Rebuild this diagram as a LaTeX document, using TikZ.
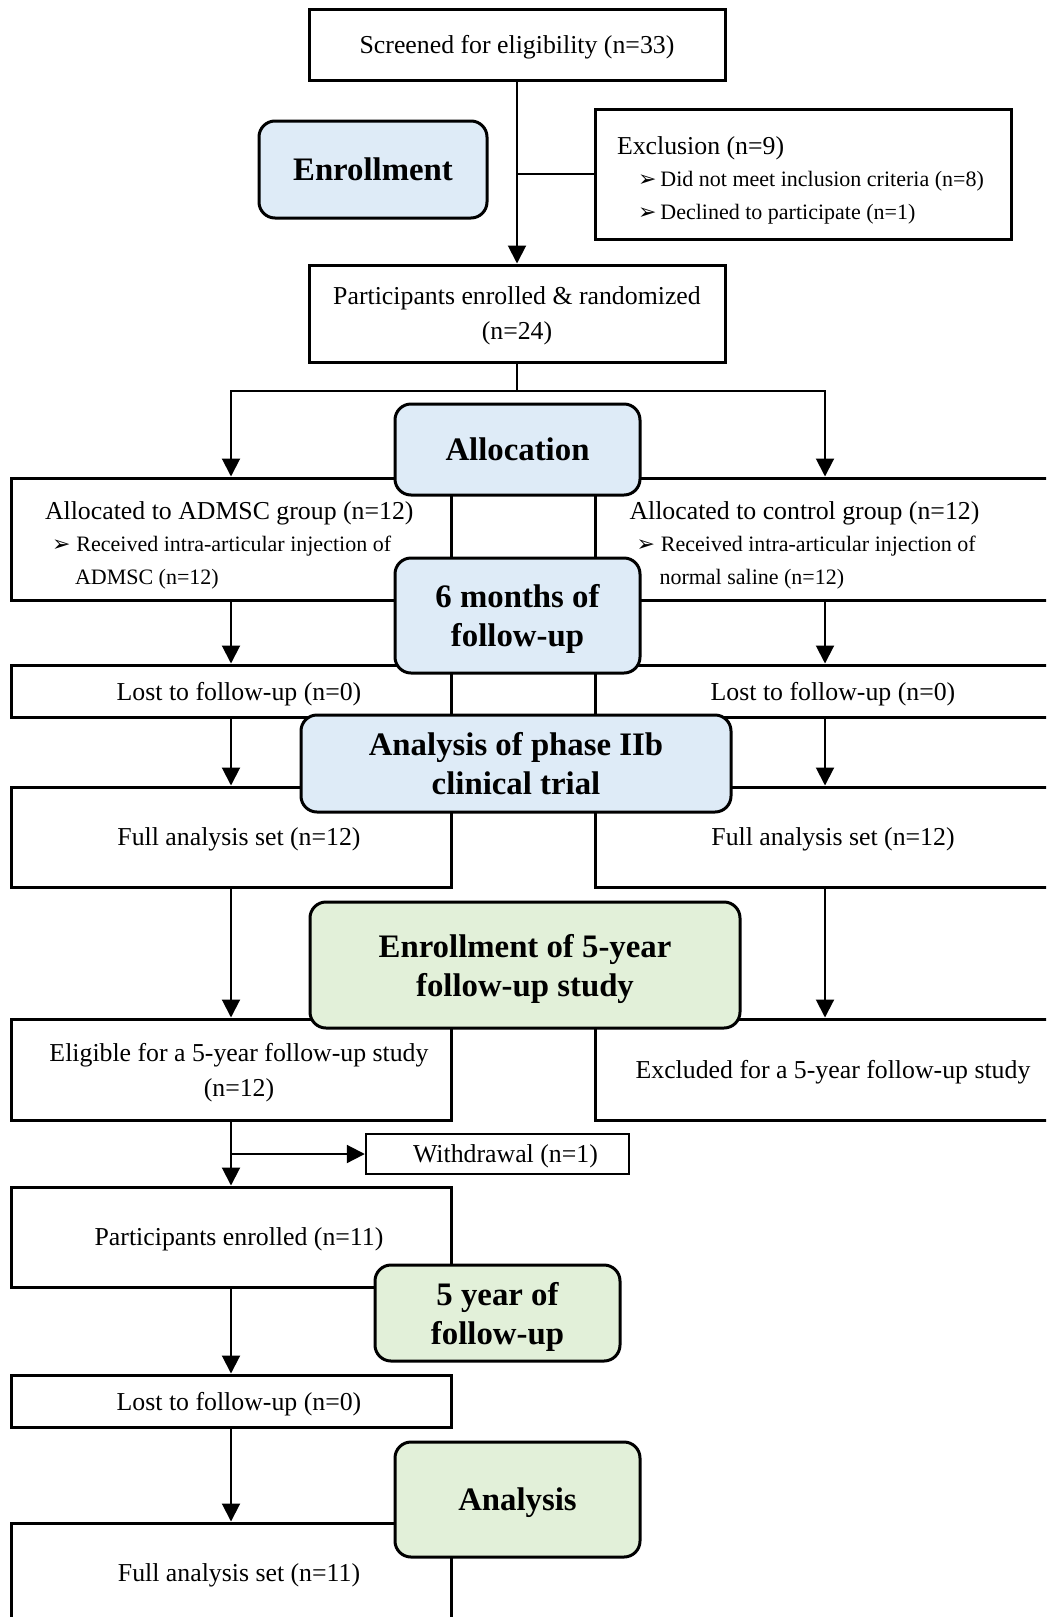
\documentclass[tikz,border=0pt]{standalone}
\usepackage{fontspec}
\setmainfont{Liberation Serif}
\newfontfamily\dingfont{DejaVu Sans}
\usepackage{tikz}
\usetikzlibrary{positioning}
\usetikzlibrary{arrows.meta}
\definecolor{stageblue}{RGB}{222,235,247}
\definecolor{stagegreen}{RGB}{226,240,217}
\newcommand{\pick}{{\dingfont\char"27A2}}
\newcommand{\nudge}{\hspace*{8pt}}
\tikzstyle{every box} = [draw, line width=1.5pt, fill=white, inner sep=0pt, align=center, text depth=-2.5pt, font=\fontsize{12.9}{17.5}\selectfont]
\tikzstyle{box} = [every box]
\tikzstyle{colbox} = [every box, execute at begin node=\nudge]
\tikzstyle{listtext} = [inner sep=0pt, align=flush left, yshift=-3pt, font=\fontsize{12.9}{16.3}\selectfont]
\tikzstyle{stage} = [draw, line width=1.5pt, rounded corners=8pt, inner sep=0pt, align=center, text depth=-3pt, font=\fontsize{16.4}{19.5}\selectfont\bfseries]
\tikzstyle{link} = [-{Triangle[length=9pt,width=9pt]}, line width=1pt]
\tikzstyle{joint} = [line width=1pt]

\begin{document}
\begin{tikzpicture}[x=0.5pt, y=-0.5pt]
                    \useasboundingbox (0,0) rectangle (1046,1617);
                    \clip (0,0) rectangle (1046,1617);

                    \node[box, minimum width=208pt, minimum height=35.5pt] (screen) at (517,44.5) {Screened for eligibility (n=33)};
                    \node[box, minimum width=208pt, minimum height=65pt] (exclusion) at (803,174) {};
                    \node[listtext, text width=186pt] (exclusiontext) at (exclusion)
                        {Exclusion (n=9)\\
                        \fontsize{11}{16.3}\selectfont\hspace*{10.5pt}\pick\hspace{2pt}Did not meet inclusion criteria (n=8)\\
                        \hspace*{10.5pt}\pick\hspace{2pt}Declined to participate (n=1)};
                    \node[box, minimum width=208pt, minimum height=48.5pt] (rand) at (517,313.5) {Participants enrolled \& randomized\\(n=24)};

                    \node[box, minimum width=220pt, minimum height=61pt] (alloca) at (231,539) {};
                    \node[listtext, text width=186pt] (allocatext) at (alloca)
                        {Allocated to ADMSC group (n=12)\\
                        \fontsize{11}{16.3}\selectfont\hspace*{3.5pt}\pick\hspace{3pt}Received intra-articular injection of\\
                        \hspace*{15pt}ADMSC (n=12)};
                    \node[box, minimum width=230pt, minimum height=61pt] (allocc) at (825,539) {};
                    \node[listtext, text width=195.5pt] (allocctext) at (allocc)
                        {Allocated to control group (n=12)\\
                        \fontsize{11}{16.3}\selectfont\hspace*{3.5pt}\pick\hspace{3pt}Received intra-articular injection of\\
                        \hspace*{15pt}normal saline (n=12)};
                    \node[colbox, minimum width=220pt, minimum height=26pt] (losta) at (231,691) {Lost to follow-up (n=0)};
                    \node[colbox, minimum width=230pt, minimum height=26pt] (lostc) at (825,691) {Lost to follow-up (n=0)};
                    \node[colbox, minimum width=220pt, minimum height=50pt] (fasa) at (231,837) {Full analysis set (n=12)};
                    \node[colbox, minimum width=230pt, minimum height=50pt] (fasc) at (825,837) {Full analysis set (n=12)};
                    \node[colbox, minimum width=220pt, minimum height=50.5pt] (elig) at (231,1069.5) {Eligible for a 5-year follow-up study\\(n=12)};
                    \node[colbox, minimum width=230pt, minimum height=50.5pt] (exclfive) at (825,1069.5) {Excluded for a 5-year follow-up study};
                    \node[colbox, line width=1.2pt, minimum width=131.5pt, minimum height=20pt] (withdraw) at (497.5,1154) {Withdrawal (n=1)};
                    \node[colbox, minimum width=220pt, minimum height=50pt] (partfin) at (231,1237) {Participants enrolled (n=11)};
                    \node[colbox, minimum width=220pt, minimum height=26pt] (lostfin) at (231,1401) {Lost to follow-up (n=0)};
                    \node[colbox, minimum width=220pt, minimum height=50pt] (fasfin) at (231,1573) {Full analysis set (n=11)};

                    \node[stage, fill=stageblue, minimum width=114pt, minimum height=48.5pt] (enrol) at (373,169.5) {Enrollment};
                    \node[stage, fill=stageblue, minimum width=122.5pt, minimum height=45.5pt] (alloc) at (517.5,449.5) {Allocation};
                    \node[stage, fill=stageblue, minimum width=122.5pt, minimum height=57.5pt] (sixmonth) at (517.5,615.5) {6 months of\\follow-up};
                    \node[stage, fill=stageblue, minimum width=215pt, minimum height=48.5pt] (phase) at (516,763.5) {Analysis of phase IIb\\clinical trial};
                    \node[stage, fill=stagegreen, minimum width=215pt, minimum height=63pt] (enrolfive) at (525,965) {Enrollment of 5-year\\follow-up study};
                    \node[stage, fill=stagegreen, minimum width=122.5pt, minimum height=48pt] (fiveyear) at (497.5,1313) {5 year of\\follow-up};
                    \node[stage, fill=stagegreen, minimum width=122.5pt, minimum height=57.5pt] (analysis) at (517.5,1499.5) {Analysis};

                    \draw[link] (screen.south) -- (rand.north);
                    \draw[joint] (screen.south |- exclusion.west) -- (exclusion.west);
                    \draw[joint] (rand.south) -- ++(0,27) coordinate (split);
                    \draw[link] (split) -| (alloca.north);
                    \draw[link] (split) -| (allocc.north);
                    \draw[link] (alloca.south) -- (losta.north);
                    \draw[link] (allocc.south) -- (lostc.north);
                    \draw[link] (losta.south) -- (fasa.north);
                    \draw[link] (lostc.south) -- (fasc.north);
                    \draw[link] (fasa.south) -- (elig.north);
                    \draw[link] (fasc.south) -- (exclfive.north);
                    \draw[link] (elig.south) -- (partfin.north);
                    \draw[link] (elig.south |- withdraw.west) -- (withdraw.west);
                    \draw[link] (partfin.south) -- (lostfin.north);
                    \draw[link] (lostfin.south) -- (fasfin.north);
                \end{tikzpicture}
\end{document}
